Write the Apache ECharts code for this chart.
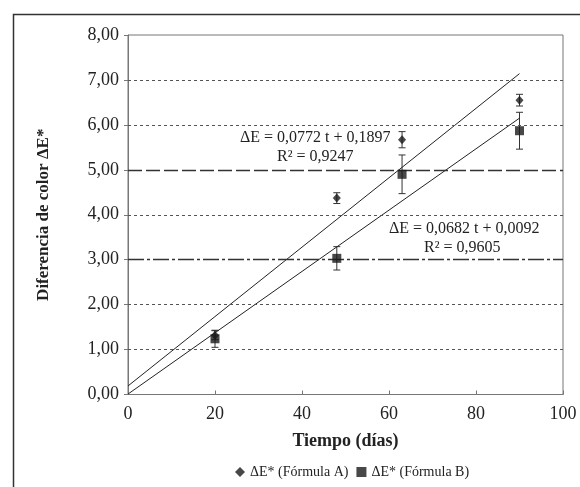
<!DOCTYPE html>
<html>
<head>
<meta charset="utf-8">
<script src="https://cdn.jsdelivr.net/npm/echarts@6/dist/echarts.min.js"></script>
<style>
  html, body { margin: 0; padding: 0; background: #fff; }
  #main { width: 580px; height: 487px; }
</style>
</head>
<body>
<div id="main"></div>
<script>
// tiempo (días)
var days = [20, 48, 63, 90];
// ΔE* fórmula A y su error
var formulaA = [1.32, 4.37, 5.67, 6.55];
var errA = [0.1, 0.12, 0.18, 0.13];
// ΔE* fórmula B y su error
var formulaB = [1.24, 3.03, 4.9, 5.87];
var errB = [0.19, 0.26, 0.43, 0.41];
// rectas de regresión (extremos)
var trendA = [[0, 0.19], [90, 7.14]];
var trendB = [[0, 0.01], [90, 6.15]];
// líneas guía
var gridLevels = [1, 2, 4, 6, 7];
var longDashLevel = 5;
var dashDotLevel = 3;

var serif = 'Liberation Serif';
var chart = echarts.init(document.getElementById('main'), null, { renderer: 'canvas' });

function pairs(ys) {
  return days.map(function (d, i) { return [d, ys[i]]; });
}
function bars(ys, errs) {
  return days.map(function (d, i) { return [d, ys[i] - errs[i], ys[i] + errs[i]]; });
}
function renderErr(params, api) {
  var lo = api.coord([api.value(0), api.value(1)]);
  var hi = api.coord([api.value(0), api.value(2)]);
  var w = 3.5;
  var st = { stroke: '#333', lineWidth: 1 };
  return {
    type: 'group',
    children: [
      { type: 'line', shape: { x1: lo[0], y1: lo[1], x2: hi[0], y2: hi[1] }, style: st },
      { type: 'line', shape: { x1: lo[0] - w, y1: lo[1], x2: lo[0] + w, y2: lo[1] }, style: st },
      { type: 'line', shape: { x1: hi[0] - w, y1: hi[1], x2: hi[0] + w, y2: hi[1] }, style: st }
    ]
  };
}

var options = {
  animation: false,
  textStyle: { fontFamily: serif, color: '#222' },
  grid: { left: 128, right: 17, top: 35, bottom: 92.5, show: true, borderColor: '#777', borderWidth: 1 },
  legend: {
    bottom: 3,
    left: 230,
    itemWidth: 10,
    itemHeight: 10,
    itemGap: 8,
    textStyle: { fontFamily: serif, fontSize: 14, color: '#222' },
    data: [
      { name: 'ΔE* (Fórmula A)', icon: 'diamond' },
      { name: 'ΔE* (Fórmula B)', icon: 'rect' }
    ]
  },
  xAxis: {
    type: 'value',
    min: 0, max: 100, interval: 20,
    name: 'Tiempo (días)',
    nameLocation: 'middle',
    nameGap: 38,
    nameTextStyle: { fontFamily: serif, fontSize: 18, fontWeight: 'bold', color: '#222' },
    axisLine: { lineStyle: { color: '#777' } },
    axisTick: { inside: true, length: 4, lineStyle: { color: '#777' } },
    axisLabel: { fontFamily: serif, fontSize: 18, color: '#222', margin: 11 },
    splitLine: { show: false }
  },
  yAxis: {
    type: 'value',
    min: 0, max: 8, interval: 1,
    name: 'Diferencia de color ΔE*',
    nameLocation: 'middle',
    nameGap: 76,
    nameTextStyle: { fontFamily: serif, fontSize: 17, fontWeight: 'bold', color: '#222' },
    axisLine: { lineStyle: { color: '#777' } },
    axisTick: { length: 4, lineStyle: { color: '#777' } },
    axisLabel: {
      fontFamily: serif, fontSize: 18, color: '#222', margin: 9,
      formatter: function (v) { return v.toFixed(2).replace('.', ','); }
    },
    splitLine: { show: false }
  },
  series: [
    {
      name: 'guides',
      type: 'line',
      data: [],
      silent: true,
      markLine: {
        symbol: 'none',
        silent: true,
        label: { show: false },
        data: gridLevels.map(function (v) {
          return { yAxis: v, lineStyle: { color: '#555', width: 1, type: [3, 3] } };
        }).concat([
          { yAxis: longDashLevel, lineStyle: { color: '#333', width: 1.3, type: [14, 4] } },
          { yAxis: dashDotLevel, lineStyle: { color: '#333', width: 1.3, type: [16, 3, 3, 3] } }
        ])
      }
    },
    {
      name: 'trendA',
      type: 'line',
      data: trendA,
      symbol: 'none',
      lineStyle: { color: '#222', width: 1 },
      silent: true
    },
    {
      name: 'trendB',
      type: 'line',
      data: trendB,
      symbol: 'none',
      lineStyle: { color: '#222', width: 1 },
      silent: true
    },
    {
      name: 'errA',
      type: 'custom',
      data: bars(formulaA, errA),
      renderItem: renderErr,
      z: 3
    },
    {
      name: 'errB',
      type: 'custom',
      data: bars(formulaB, errB),
      renderItem: renderErr,
      z: 3
    },
    {
      name: 'ΔE* (Fórmula A)',
      type: 'scatter',
      data: pairs(formulaA),
      symbol: 'diamond',
      symbolSize: [8, 9],
      itemStyle: { color: '#1a1a1a' },
      z: 4
    },
    {
      name: 'ΔE* (Fórmula B)',
      type: 'scatter',
      data: pairs(formulaB),
      symbol: 'rect',
      symbolSize: 9,
      itemStyle: { color: '#1a1a1a' },
      z: 5
    }
  ],
  graphic: [
    {
      type: 'polyline',
      shape: { points: [[13.5, 487], [13.5, 14.5], [580, 14.5]] },
      style: { stroke: '#333', lineWidth: 1.5, fill: null },
      silent: true
    },
    {
      type: 'text', left: 240, top: 130,
      style: { text: 'ΔE = 0,0772 t + 0,1897', font: '16px "Liberation Serif"', fill: '#222' }
    },
    {
      type: 'text', left: 277, top: 149,
      style: { text: 'R² = 0,9247', font: '16px "Liberation Serif"', fill: '#222' }
    },
    {
      type: 'text', left: 389, top: 221,
      style: { text: 'ΔE = 0,0682 t + 0,0092', font: '16px "Liberation Serif"', fill: '#222' }
    },
    {
      type: 'text', left: 424, top: 240,
      style: { text: 'R² = 0,9605', font: '16px "Liberation Serif"', fill: '#222' }
    }
  ]
};

chart.setOption(options);
</script>
</body>
</html>
